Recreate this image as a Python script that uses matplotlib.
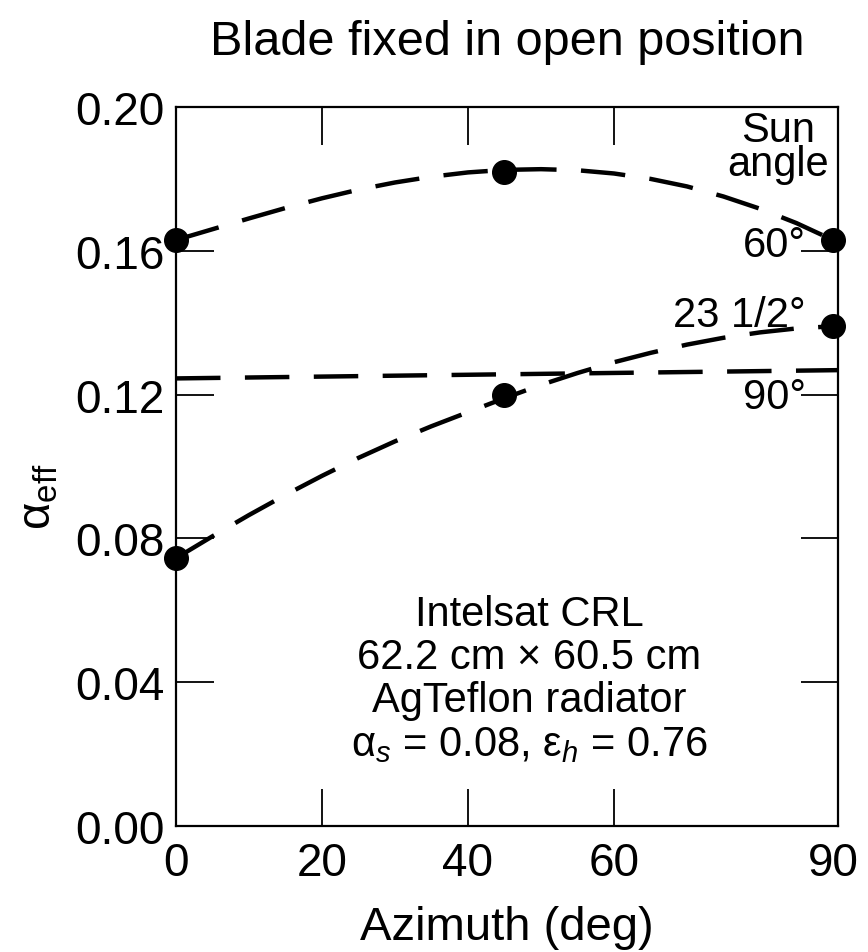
import matplotlib
matplotlib.use("Agg")
import matplotlib.pyplot as plt

plt.rcParams["font.family"] = ["Liberation Sans", "DejaVu Sans"]
plt.rcParams["mathtext.fontset"] = "custom"
plt.rcParams["mathtext.rm"] = "Liberation Sans"
plt.rcParams["mathtext.it"] = "Liberation Sans:italic"
plt.rcParams["mathtext.bf"] = "Liberation Sans:bold"

# ── data ──────────────────────────────────────────────────────────────────────
azimuth = [0, 45, 90]
alpha_60 = [0.163, 0.182, 0.163]
alpha_23 = [0.0745, 0.120, 0.139]

# points
curve60_x = [0, 5, 10, 15, 20, 25, 30, 35, 40, 45, 50, 55, 60, 65, 70, 75, 80, 85, 90]
curve60_y = [0.1630, 0.1660, 0.1690, 0.1719, 0.1746, 0.1770, 0.1790, 0.1806,
             0.1818, 0.1825, 0.1827, 0.1824, 0.1815, 0.1800, 0.1779, 0.1751,
             0.1717, 0.1677, 0.1630]
curve23_x = [0, 5, 10, 15, 20, 25, 30, 35, 40, 45, 50, 55, 60, 65, 70, 75, 80, 85, 90]
curve23_y = [0.0745, 0.0806, 0.0865, 0.0921, 0.0974, 0.1024, 0.1070, 0.1112,
             0.1151, 0.1190, 0.1227, 0.1260, 0.1290, 0.1316, 0.1339, 0.1358,
             0.1373, 0.1384, 0.1390]
line90_x = [0, 90.7]
line90_y = [0.1245, 0.1268]

x_ticks = [0, 20, 40, 60, 90]
y_ticks = [0.00, 0.04, 0.08, 0.12, 0.16, 0.20]

DASH = (10, 5.5)

fig = plt.figure(figsize=(8.68, 9.53), dpi=100, facecolor="white")
ax = fig.add_axes([0.2028, 0.1322, 0.7627, 0.7545])

for xs, ys in ((curve60_x, curve60_y), (curve23_x, curve23_y), (line90_x, line90_y)):
    ax.plot(xs, ys, color="black", linewidth=3.2, dashes=DASH,
            dash_capstyle="butt", clip_on=False, zorder=2)

ax.plot(azimuth, alpha_60, "o", color="black", markersize=17, clip_on=False, zorder=3)
ax.plot(azimuth, alpha_23, "o", color="black", markersize=17, clip_on=False, zorder=3)

ax.set_xlim(0, 90.7)
ax.set_ylim(0, 0.20)
ax.set_xticks(x_ticks)
ax.set_yticks(y_ticks)
ax.set_xticklabels([str(v) for v in x_ticks])
ax.set_yticklabels([f"{v:.2f}" for v in y_ticks])
ax.tick_params(direction="in", length=27, width=1.3, labelsize=33,
               top=True, right=True)
ax.tick_params(axis="x", pad=11)
ax.tick_params(axis="y", pad=8)
# no tick mark drawn at 90, only its label
last = ax.xaxis.get_major_ticks()[-1]
last.tick1line.set_visible(False)
last.tick2line.set_visible(False)
for sp in ax.spines.values():
    sp.set_linewidth(1.6)

# curve labels
ax.text(82.5, 0.1812, "Sun\nangle", ha="center", va="baseline",
        fontsize=30, linespacing=0.8, multialignment="center")
ax.text(86.3, 0.1586, "60°", ha="right", va="baseline", fontsize=30)
ax.text(86.3, 0.1392, "23 1/2°", ha="right", va="baseline", fontsize=30)
ax.text(86.3, 0.1164, "90°", ha="right", va="baseline", fontsize=30)

# panel description
cx = 48.4
ax.text(cx, 0.0558, "Intelsat CRL", ha="center", va="baseline", fontsize=30)
ax.text(cx, 0.0439, "62.2 cm × 60.5 cm", ha="center", va="baseline", fontsize=30)
ax.text(cx, 0.0319, "AgTeflon radiator", ha="center", va="baseline", fontsize=30)
ax.text(cx, 0.0197, r"α$_s$ = 0.08, ε$_h$ = 0.76",
        ha="center", va="baseline", fontsize=30)

ax.set_title("Blade fixed in open position", fontsize=35, pad=38)
ax.set_xlabel("Azimuth (deg)", fontsize=34, labelpad=14)
ax.set_ylabel(r"α$_{\rm eff}$", fontsize=34)
ax.yaxis.set_label_coords(-0.175, 0.46)

fig.savefig("out.png", dpi=100, facecolor="white")
